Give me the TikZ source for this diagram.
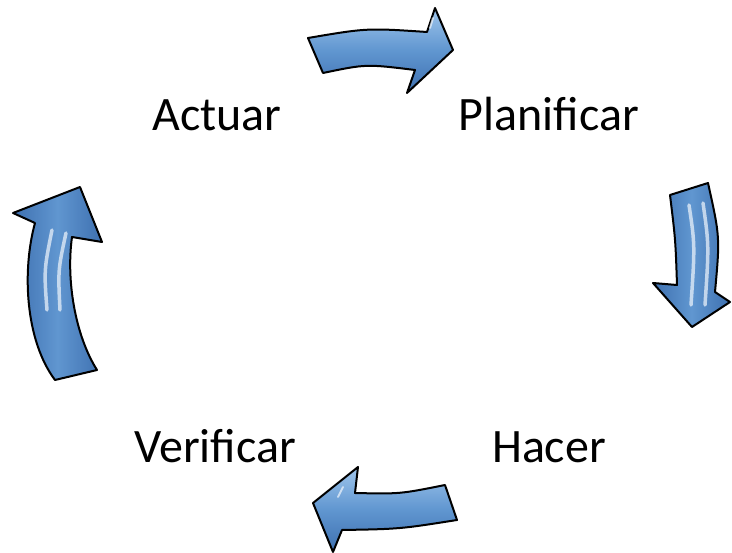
\documentclass[tikz,border=0pt]{standalone}
\usepackage{fontspec}
\setmainfont{Carlito}
\definecolor{arrowlight}{RGB}{160,198,236}
\definecolor{arrowmid}{RGB}{96,150,208}
\definecolor{arrowdark}{RGB}{62,112,176}
\begin{document}
\begin{tikzpicture}[x=1pt,y=-1pt,
	stage/.style={font=\fontsize{48}{58}\selectfont, anchor=base, inner sep=0pt},
	cyclearrow/.style={draw=black, line width=2pt, line join=round},
	flatarrow/.style={cyclearrow, top color=arrowlight, bottom color=arrowdark, middle color=arrowmid},
	tallarrow/.style={cyclearrow, left color=arrowdark, right color=arrowdark, middle color=arrowmid},
	gloss/.style={draw=white!85!arrowlight, line width=3.5pt, line cap=round, opacity=0.7}]
					\useasboundingbox (0,0) rectangle (732,553);

					\node[stage] (actuar) at (217,131) {Actuar};
					\node[stage] (planificar) at (549,131) {Planificar};
					\node[stage] (verificar) at (215,463) {Verificar};
					\node[stage] (hacer) at (549,463) {Hacer};

					\draw[flatarrow] (308,38) .. controls (367,28) .. (427,32) -- (435,8) -- (453,50) -- (407,93)
						-- (415,70) .. controls (366,64) .. (323,73) -- cycle;
					\draw[tallarrow] (670,195) -- (708,183) .. controls (720,237) .. (715,292) -- (730,302)
						-- (692,327) -- (653,283) -- (677,285) .. controls (675.5,240) .. (670,195) -- cycle;
					\draw[flatarrow] (313,503) -- (358,467) -- (355,493) .. controls (400,494) .. (445,485)
						-- (457,520) .. controls (400,529) .. (342,530) -- (333,552) -- cycle;
					\draw[tallarrow] (80,187) -- (13,213) -- (35,223) .. controls (22,270) and (25,340) .. (55,380)
						-- (97,370) .. controls (75,335) and (66,280) .. (72,237) -- (102,242) -- cycle;

					\draw[gloss] (689,205) .. controls (695,245) .. (691,305);
					\draw[gloss] (703,203) .. controls (709,245) .. (705,305);
					\draw[gloss] (52,230) .. controls (44,270) .. (47,310);
					\draw[gloss] (66,233) .. controls (58,270) .. (60,310);
					\draw[gloss, line width=2pt] (430,28) -- (433,18);
					\draw[gloss, line width=2pt] (338,497) -- (343,487);
				\end{tikzpicture}
\end{document}
